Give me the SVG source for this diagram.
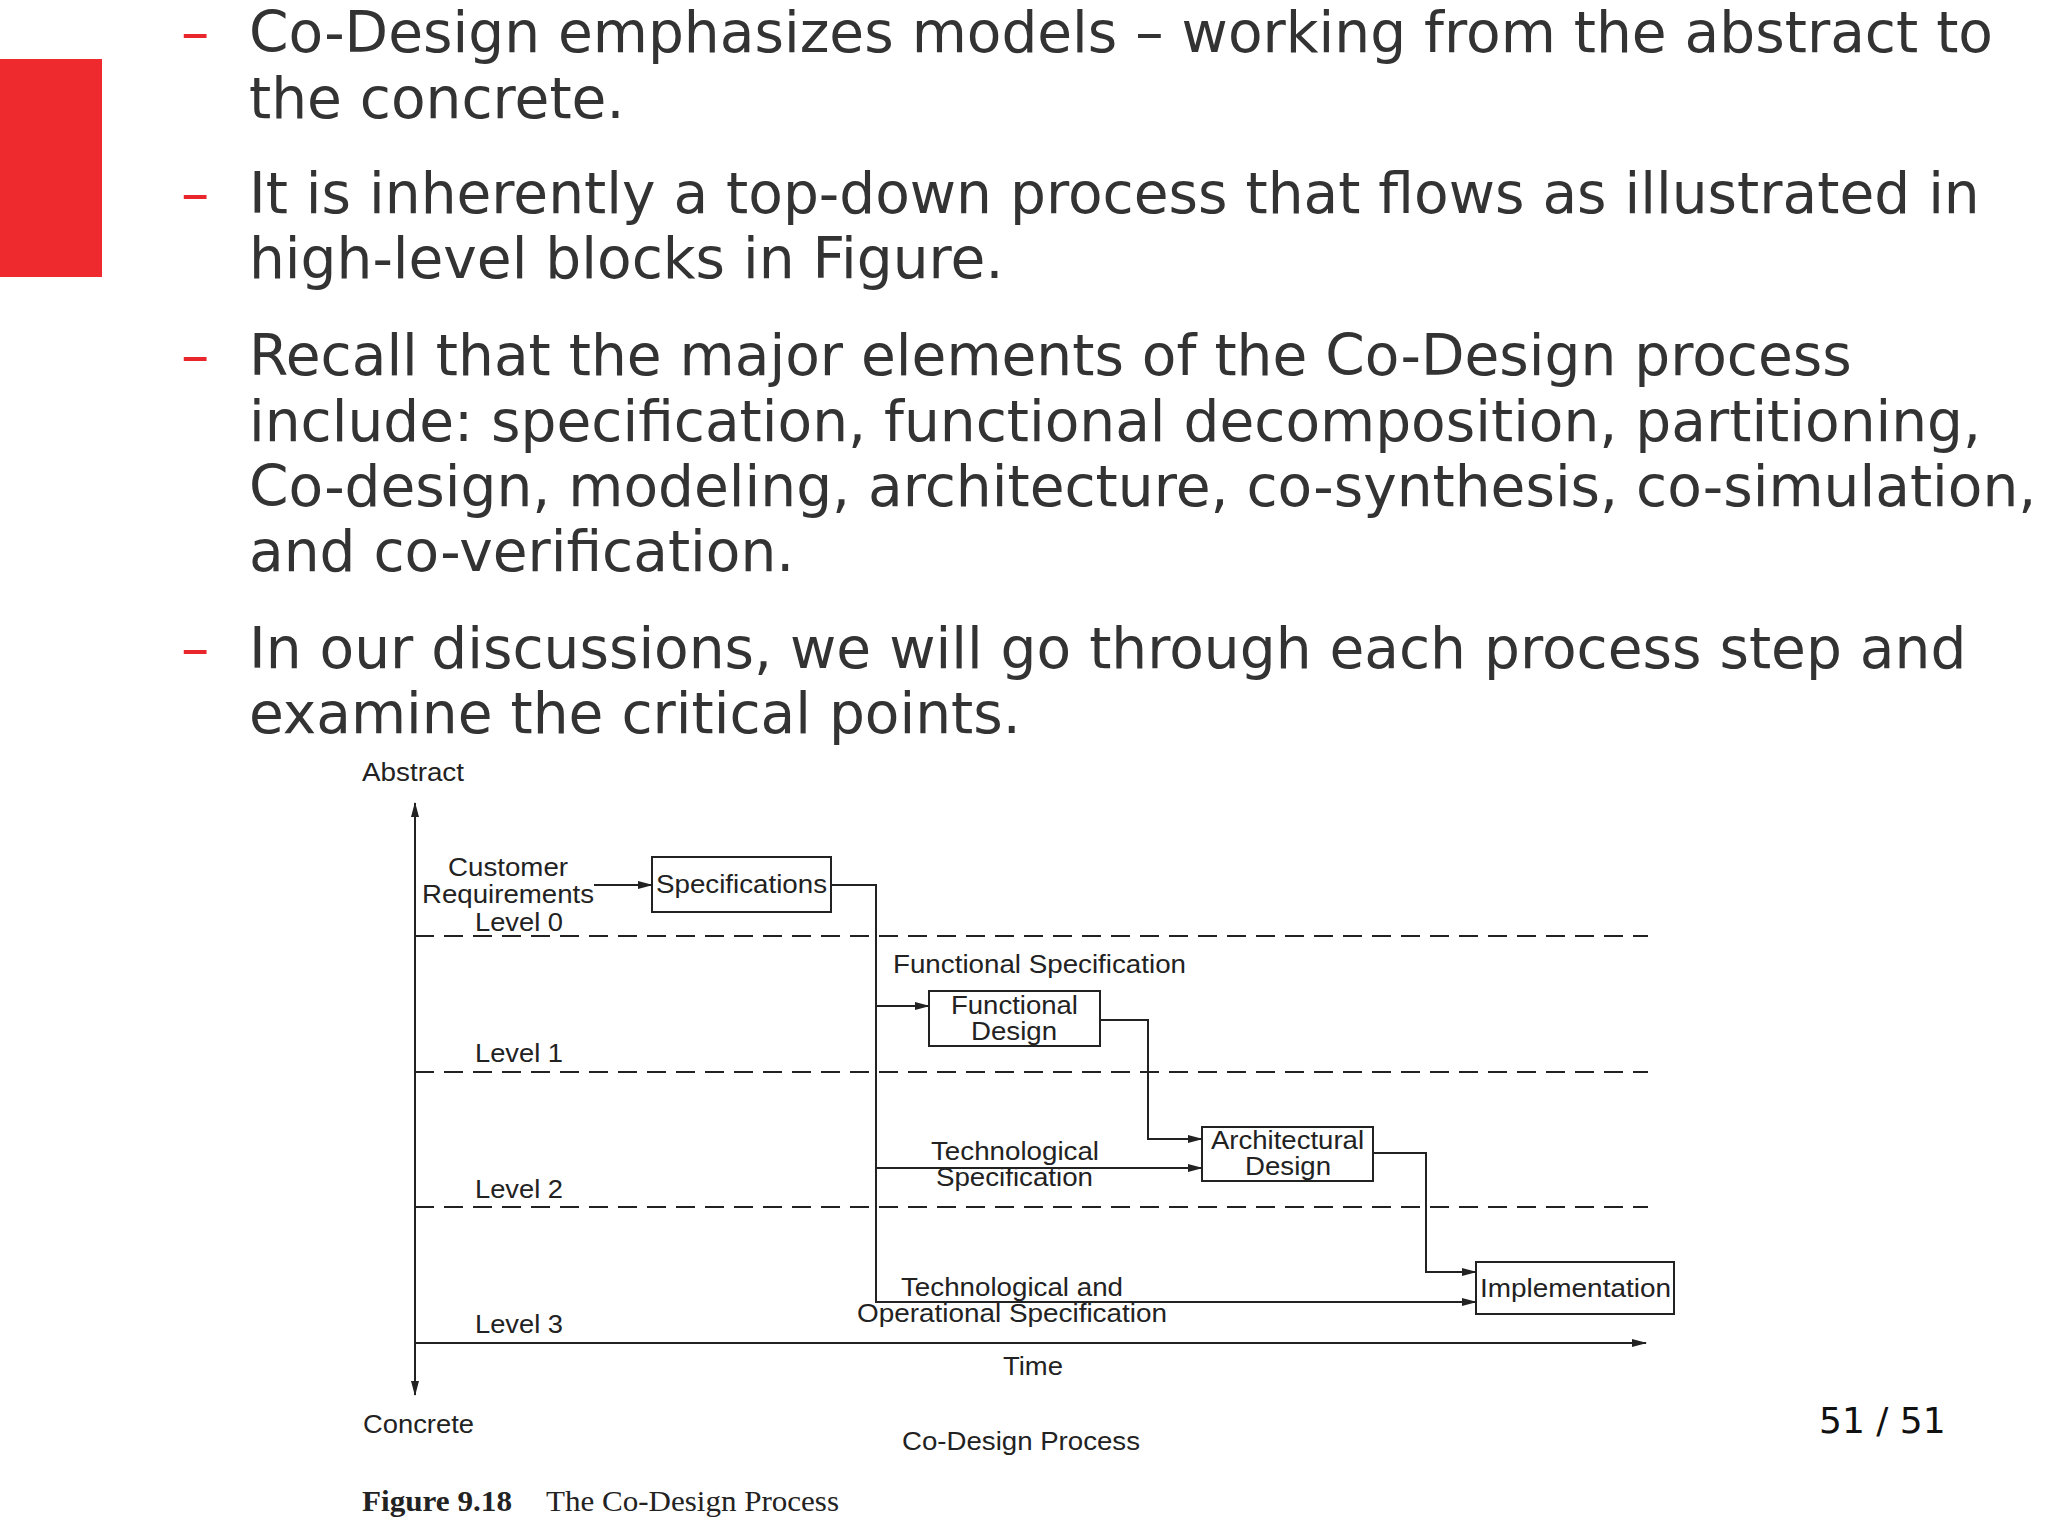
<svg xmlns="http://www.w3.org/2000/svg" width="2048" height="1536" viewBox="0 0 2048 1536">
<style>
.body{font-family:"DejaVu Sans",sans-serif;font-size:56.6px;fill:#333333}
.dash{font-family:"DejaVu Sans",sans-serif;font-size:56.6px;fill:#e8262b}
.lbl{font-family:"Liberation Sans",Arial,sans-serif;font-size:26px;fill:#222222}
.mid{text-anchor:middle}
.box{fill:none;stroke:#222222;stroke-width:2}
.ln{fill:none;stroke:#222222;stroke-width:2}
.dsh{fill:none;stroke:#222222;stroke-width:2;stroke-dasharray:19 10}
.cap{font-family:"Liberation Serif","Times New Roman",serif;font-size:29px;fill:#222222}
</style>
<defs>
<marker id="ah" markerUnits="userSpaceOnUse" markerWidth="16" markerHeight="8" refX="14" refY="4" orient="auto-start-reverse">
<path d="M0,0 L15,4 L0,8 z" fill="#222222"/>
</marker>
</defs>
<rect width="2048" height="1536" fill="#ffffff"/>
<rect x="0" y="59" width="102" height="218" fill="#ee2a2e"/>
<g id="bullets">
<text class="dash" x="181" y="52">–</text>
<text class="body" x="249" y="52">Co-Design emphasizes models – working from the abstract to</text>
<text class="body" x="249" y="118">the concrete.</text>
<text class="dash" x="181" y="213">–</text>
<text class="body" x="249" y="213">It is inherently a top-down process that flows as illustrated in</text>
<text class="body" x="249" y="278">high-level blocks in Figure.</text>
<text class="dash" x="181" y="375">–</text>
<text class="body" x="249" y="375">Recall that the major elements of the Co-Design process</text>
<text class="body" x="249" y="441">include: specification, functional decomposition, partitioning,</text>
<text class="body" x="249" y="506">Co-design, modeling, architecture, co-synthesis, co-simulation,</text>
<text class="body" x="249" y="571">and co-verification.</text>
<text class="dash" x="181" y="668">–</text>
<text class="body" x="249" y="668">In our discussions, we will go through each process step and</text>
<text class="body" x="249" y="733">examine the critical points.</text>
</g>
<g id="axes-labels">
<text class="lbl" x="362" y="781" textLength="102" lengthAdjust="spacingAndGlyphs">Abstract</text>
<text class="lbl" x="363" y="1433" textLength="111" lengthAdjust="spacingAndGlyphs">Concrete</text>
<text class="lbl" x="475" y="931" textLength="88" lengthAdjust="spacingAndGlyphs">Level 0</text>
<text class="lbl" x="475" y="1062" textLength="88" lengthAdjust="spacingAndGlyphs">Level 1</text>
<text class="lbl" x="475" y="1198" textLength="88" lengthAdjust="spacingAndGlyphs">Level 2</text>
<text class="lbl" x="475" y="1333" textLength="88" lengthAdjust="spacingAndGlyphs">Level 3</text>
<text class="lbl" x="1003" y="1375" textLength="60" lengthAdjust="spacingAndGlyphs">Time</text>
<text class="lbl" x="902" y="1450" textLength="238" lengthAdjust="spacingAndGlyphs">Co-Design Process</text>
<text class="lbl" x="448" y="876" textLength="120" lengthAdjust="spacingAndGlyphs">Customer</text>
<text class="lbl" x="422" y="903" textLength="172" lengthAdjust="spacingAndGlyphs">Requirements</text>
<text class="lbl" x="893" y="973" textLength="293" lengthAdjust="spacingAndGlyphs">Functional Specification</text>
<text class="lbl" x="931" y="1160" textLength="168" lengthAdjust="spacingAndGlyphs">Technological</text>
<text class="lbl" x="936" y="1186" textLength="157" lengthAdjust="spacingAndGlyphs">Specification</text>
<text class="lbl" x="901" y="1296" textLength="222" lengthAdjust="spacingAndGlyphs">Technological and</text>
<text class="lbl" x="857" y="1322" textLength="310" lengthAdjust="spacingAndGlyphs">Operational Specification</text>
</g>
<g id="node-specifications">
<rect class="box" x="652" y="857" width="179" height="55"/>
<text class="lbl" x="656" y="893" textLength="171" lengthAdjust="spacingAndGlyphs">Specifications</text>
</g>
<g id="node-functional-design">
<rect class="box" x="929" y="991" width="171" height="55"/>
<text class="lbl" x="951" y="1014" textLength="127" lengthAdjust="spacingAndGlyphs">Functional</text>
<text class="lbl" x="971" y="1040" textLength="86" lengthAdjust="spacingAndGlyphs">Design</text>
</g>
<g id="node-architectural-design">
<rect class="box" x="1202" y="1127" width="171" height="54"/>
<text class="lbl" x="1211" y="1149" textLength="153" lengthAdjust="spacingAndGlyphs">Architectural</text>
<text class="lbl" x="1245" y="1175" textLength="86" lengthAdjust="spacingAndGlyphs">Design</text>
</g>
<g id="node-implementation">
<rect class="box" x="1476" y="1262" width="198" height="52"/>
<text class="lbl" x="1480" y="1297" textLength="191" lengthAdjust="spacingAndGlyphs">Implementation</text>
</g>
<g id="connectors">
<path class="ln" d="M415,1395 V803" marker-start="url(#ah)" marker-end="url(#ah)"/>
<path class="ln" d="M415,1343 H1646" marker-end="url(#ah)"/>
<path class="dsh" d="M415,936 H1648"/>
<path class="dsh" d="M415,1072 H1648"/>
<path class="dsh" d="M415,1207 H1648"/>
<path class="ln" d="M594,885 H652" marker-end="url(#ah)"/>
<path class="ln" d="M831,885 H876 V1302 H1476" marker-end="url(#ah)"/>
<path class="ln" d="M876,1006 H929" marker-end="url(#ah)"/>
<path class="ln" d="M876,1168 H1202" marker-end="url(#ah)"/>
<path class="ln" d="M1100,1020 H1148 V1139 H1202" marker-end="url(#ah)"/>
<path class="ln" d="M1373,1153 H1426 V1272 H1476" marker-end="url(#ah)"/>
</g>
<g id="caption">
<text class="cap" x="362" y="1511" font-weight="bold" textLength="150" lengthAdjust="spacingAndGlyphs">Figure 9.18</text>
<text class="cap" x="546" y="1511" textLength="293" lengthAdjust="spacingAndGlyphs">The Co-Design Process</text>
</g>
<text x="1819" y="1433" style="font-family:'DejaVu Sans',sans-serif;font-size:36px;fill:#111111">51 / 51</text>
</svg>
